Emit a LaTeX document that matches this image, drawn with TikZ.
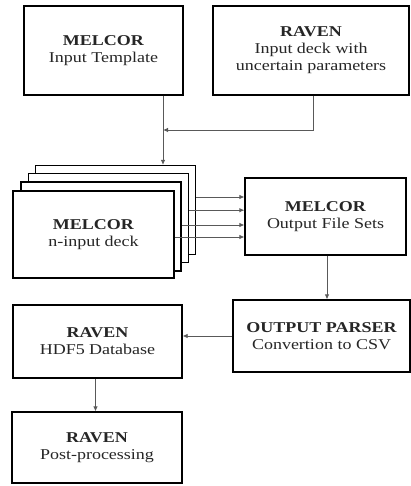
\documentclass[tikz,border=0pt]{standalone}
\usepackage{fontspec}
\setmainfont{Liberation Serif}[FakeStretch=1.2]
\usetikzlibrary{arrows.meta}
\begin{document}
\begin{tikzpicture}[x=1pt,y=1pt,
  box/.style={draw=black,line width=1.3pt,fill=white,align=center,
    inner sep=0pt,text=black!85,font=\fontsize{15}{17}\selectfont},
  conn/.style={draw=black!65,line width=0.8pt},
  arr/.style={conn,-{Latex[length=5pt,width=4.5pt]}}]
\useasboundingbox (0,0) rectangle (411,-486);
\node[box,minimum width=159,minimum height=89] (template) at (103.5,-50.5)
  {\textbf{MELCOR}\\Input Template};
\node[box,minimum width=196,minimum height=89] (raven) at (311,-50.5)
  {\textbf{RAVEN}\\Input deck with\\uncertain parameters};
\node[box,minimum width=160,minimum height=89] (d4) at (115.5,-210) {};
\node[box,minimum width=160,minimum height=89] (d3) at (108.3,-218.2) {};
\node[box,minimum width=160,minimum height=89] (d2) at (101,-226.4) {};
\node[box,minimum width=161,minimum height=87] (d1) at (93.5,-234.5)
  {\textbf{MELCOR}\\n-input deck};
\node[box,minimum width=161,minimum height=77] (out) at (325.5,-216.5)
  {\textbf{MELCOR}\\Output File Sets};
\node[box,minimum width=177,minimum height=72] (parser) at (321.5,-336)
  {\textbf{OUTPUT PARSER}\\Convertion to CSV};
\node[box,minimum width=169,minimum height=73] (hdf5) at (97.5,-341.5)
  {\textbf{RAVEN}\\HDF5 Database};
\node[box,minimum width=170,minimum height=71] (post) at (97,-447.5)
  {\textbf{RAVEN}\\Post-processing};
% junction
\coordinate (j) at (163,-130);
\coordinate (r) at (313,-130);
\draw[conn] (template.south -| j) -- (j);
\draw[arr] (j) -- (j |- d4.north);
\draw[arr] (raven.south -| r) -- (r) -- (j);
% deck arrows
\draw[arr] ([yshift=13pt]d4.east) coordinate (a4) -- (a4 -| out.west);
\draw[arr] ([yshift=8pt]d3.east) coordinate (a3) -- (a3 -| out.west);
\draw[arr] ([yshift=1.4pt]d2.east) coordinate (a2) -- (a2 -| out.west);
\draw[arr] ([yshift=-2.5pt]d1.east) coordinate (a1) -- (a1 -| out.west);
% lower arrows
\draw[arr] ([xshift=1.5pt]out.south) coordinate (o) -- (o |- parser.north);
\draw[arr] (parser.west) -- (hdf5.east |- parser.west);
\draw[arr] ([xshift=-2pt]hdf5.south) coordinate (h) -- (h |- post.north);
\end{tikzpicture}
\end{document}
